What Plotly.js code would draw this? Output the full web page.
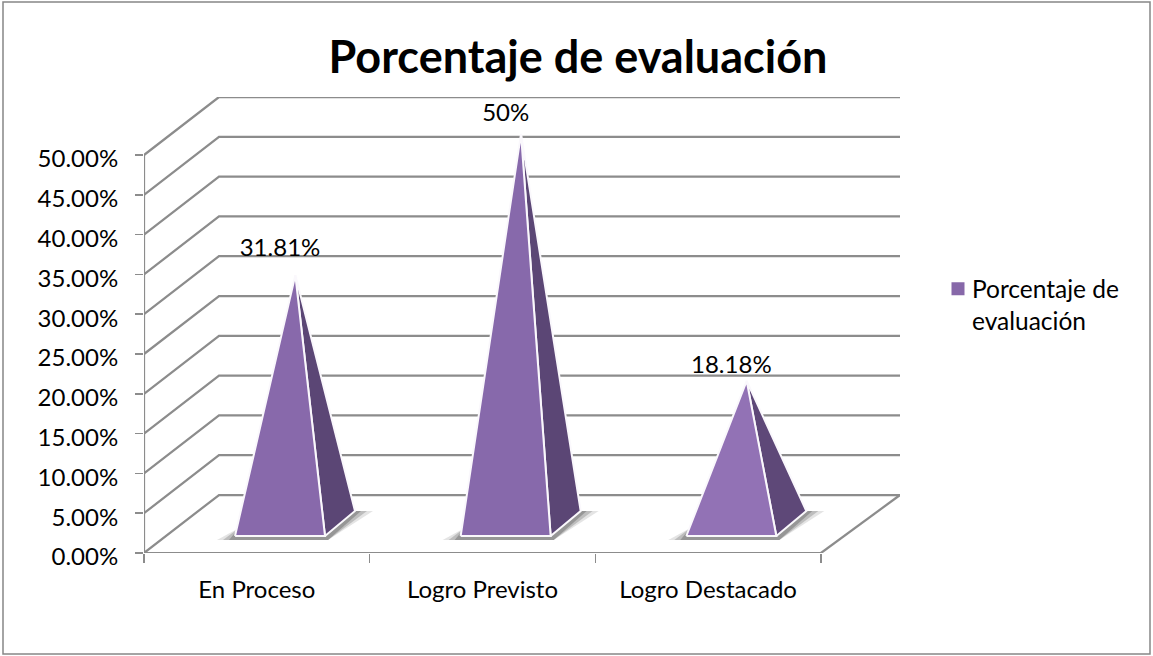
<!DOCTYPE html>
<html>
<head>
<meta charset="utf-8">
<script src="https://cdn.plot.ly/plotly-3.0.1.min.js"></script>
<style>html,body{margin:0;padding:0;background:#fff}</style>
</head>
<body>
<div id="chart" style="width:1153px;height:656px"></div>
<script>
const categories = ["En Proceso", "Logro Previsto", "Logro Destacado"];
const values = [31.81, 50, 18.18];
const dataLabels = ["31.81%", "50%", "18.18%"];
const yTicks = [0, 5, 10, 15, 20, 25, 30, 35, 40, 45, 50];
const yTickText = ["0.00%", "5.00%", "10.00%", "15.00%", "20.00%", "25.00%", "30.00%", "35.00%", "40.00%", "45.00%", "50.00%"];
const seriesName = "Porcentaje de<br>evaluación";
const chartTitle = "Porcentaje de evaluación";

// oblique projection constants, in axis units
const pxX = 677 / 3, pxY = 398 / 50;
const depthLeft = 75 / pxX, depthRight = 79 / pxX, depthY = 58 / pxY;
const xPx = p => p / pxX, yPx = p => p / pxY;
const faceColors = ["#8869AB", "#8769AB", "#9272B5"];
const sideColors = ["#5B4675", "#5B4675", "#5E4878"];
const labelLift = [25.5, 18.5, 13.5];
const textFont = "Lato, sans-serif";

const gridX = [], gridY = [];
yTicks.forEach(v => {
  gridX.push(0, depthLeft, 3 + depthRight, null);
  gridY.push(v, v + depthY, v + depthY, null);
});
gridX.push(3, 3 + depthRight, null, 0, 3);
gridY.push(0, depthY, null, 0, 0);

const lineColor = "#8C8C8C";
const traces = [
  {x: gridX, y: gridY, mode: "lines", line: {color: lineColor, width: 2.25}, showlegend: false, hoverinfo: "skip", cliponaxis: false},
  {x: [0, 0], y: [0, 50], mode: "lines", line: {color: lineColor, width: 2.25}, showlegend: false, hoverinfo: "skip", cliponaxis: false}
];

categories.forEach((c, i) => {
  const left = i + xPx(91), right = left + xPx(90);
  const frontY = yPx(17), backX = right + xPx(30), backY = yPx(42);
  const apexX = i + 0.5 + xPx(38.5), apexY = yPx(31) + values[i] * 0.975;
  [[18, "rgba(130,130,130,0.22)"], [12, "rgba(110,110,110,0.32)"], [6, "rgba(95,95,95,0.42)"]].forEach(s => {
    traces.push({
      x: [left - xPx(s[0]), left + xPx(4), backX, backX + xPx(s[0]), right + xPx(3)],
      y: [frontY - yPx(4), frontY + yPx(8), backY, backY, frontY - yPx(4)],
      mode: "lines", fill: "toself", fillcolor: s[1], line: {width: 0},
      showlegend: false, hoverinfo: "skip", cliponaxis: false
    });
  });
  traces.push({
    x: [right, backX, apexX, right], y: [frontY, backY, apexY, frontY],
    mode: "lines", fill: "toself", fillcolor: sideColors[i], line: {color: "#FAF8FC", width: 2},
    showlegend: false, hoverinfo: "skip", cliponaxis: false
  });
  traces.push({
    x: [left, right, apexX, left], y: [frontY, frontY, apexY, frontY],
    mode: "lines", fill: "toself", fillcolor: faceColors[i], line: {color: "#FAF8FC", width: 2},
    showlegend: false, hoverinfo: "skip", cliponaxis: false
  });
  traces.push({
    x: [(left + right) / 2], y: [apexY + yPx(labelLift[i])], mode: "text", text: [dataLabels[i]],
    textposition: "middle center", textfont: {family: textFont, size: 24, color: "#000"},
    showlegend: false, hoverinfo: "skip", cliponaxis: false
  });
});

traces.push({
  x: [null], y: [null], mode: "markers", name: seriesName,
  marker: {symbol: "square", size: 13, color: "#8768A9"}
});

const layout = {
  width: 1153, height: 656, autosize: false,
  paper_bgcolor: "#fff", plot_bgcolor: "#fff",
  margin: {l: 144, r: 253, t: 97, b: 103, pad: 0},
  font: {family: textFont, size: 24, color: "#000"},
  title: {text: "<b>" + chartTitle + "</b>", font: {family: textFont, size: 45, color: "#000"},
          x: 578 / 1153, xanchor: "center", xref: "container", y: 1 - 57 / 656, yanchor: "middle", yref: "container"},
  xaxis: {
    range: [0, 3 + depthRight], tickmode: "array", tickvals: [0.5, 1.5, 2.5], ticktext: categories,
    ticks: "", showgrid: false, zeroline: false, showline: false, ticklabelstandoff: 20,
    minor: {tickmode: "array", tickvals: [0, 1, 2, 3], ticks: "outside", ticklen: 9, tickwidth: 1.5, tickcolor: lineColor, showgrid: false},
    tickfont: {family: textFont, size: 24}
  },
  yaxis: {
    range: [0, 50 + depthY], tickmode: "array", tickvals: yTicks, ticktext: yTickText,
    ticks: "outside", ticklen: 8, tickwidth: 1.5, tickcolor: lineColor, ticklabelstandoff: 12, ticklabelshift: 4,
    showgrid: false, zeroline: false, showline: false,
    tickfont: {family: textFont, size: 24}
  },
  legend: {x: (932 - 144) / 756, xanchor: "left", y: (552 - 304) / 456, yanchor: "middle",
           bgcolor: "rgba(0,0,0,0)", font: {family: textFont, size: 24.5}, itemclick: false, itemdoubleclick: false},
  showlegend: true,
  shapes: [{type: "rect", xref: "paper", yref: "paper",
            x0: (3 - 144) / 756, x1: (1150 - 144) / 756, y0: (553 - 654) / 456, y1: (553 - 2) / 456,
            line: {color: "#868686", width: 1.5}, fillcolor: "rgba(0,0,0,0)", layer: "below"}],
  hovermode: false
};
Plotly.newPlot("chart", traces, layout, {displayModeBar: false, staticPlot: true}).then(() => {
  // the reference keeps the legend swatch closer to the text and on its first line
  document.querySelectorAll("#chart .legend .legendpoints path").forEach(p => {
    p.setAttribute("transform", "translate(26,-16)");
  });
});
</script>
</body>
</html>
